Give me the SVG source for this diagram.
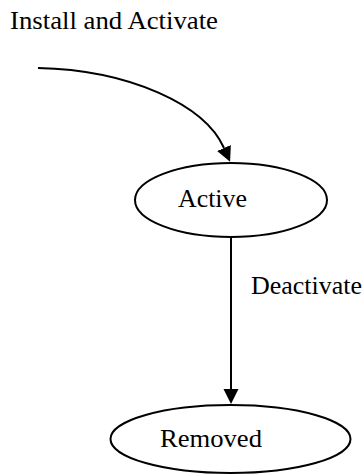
<svg xmlns="http://www.w3.org/2000/svg" width="364" height="474" viewBox="0 0 364 474">
<defs>
<marker id="ah" markerUnits="userSpaceOnUse" markerWidth="16" markerHeight="16" viewBox="0 0 16 16" refX="0" refY="8" orient="auto">
<path d="M0,0.5 L15,8 L0,15.5 Z" fill="#000"/>
</marker>
</defs>
<style>
.t{font-family:"Liberation Serif","Times New Roman",serif;font-size:25px;fill:#000}
.n{fill:#fff;stroke:#000;stroke-width:2}
.c{fill:none;stroke:#000;stroke-width:2;marker-end:url(#ah)}
</style>
<rect width="364" height="474" fill="#fff"/>
<g id="connectors">
<path class="c" d="M38,68 C130,70 205,105 224,148"/>
<text class="t" x="10" y="29" textLength="208" lengthAdjust="spacingAndGlyphs">Install and Activate</text>
<path class="c" d="M231,237 L231,389"/>
<text class="t" x="251" y="294" textLength="111" lengthAdjust="spacingAndGlyphs">Deactivate</text>
</g>
<g id="active">
<ellipse class="n" cx="231" cy="200" rx="96" ry="37"/>
<text class="t" x="178" y="207" textLength="69" lengthAdjust="spacingAndGlyphs">Active</text>
</g>
<g id="removed">
<ellipse class="n" cx="230.5" cy="439" rx="120" ry="34"/>
<text class="t" x="160" y="447" textLength="102" lengthAdjust="spacingAndGlyphs">Removed</text>
</g>
</svg>
